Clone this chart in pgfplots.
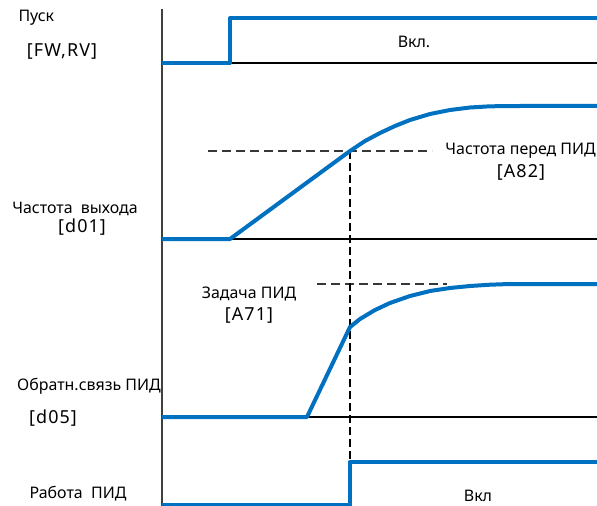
\documentclass[border=0pt]{standalone}
\usepackage{fontspec}
\setmainfont{Noto Sans}
\usepackage{pgfplots}
\pgfplotsset{compat=1.18}
\definecolor{sigblue}{RGB}{0,112,192}
\definecolor{axgray}{RGB}{64,64,64}
\definecolor{dashgray}{RGB}{55,55,55}
\begin{document}
\begin{tikzpicture}
\begin{axis}[name=ax, scale only axis, width=597bp, height=506bp,
  xmin=0, xmax=597, ymin=0, ymax=506, y dir=reverse, axis lines=none, clip=true]
% axis line
\addplot[axgray, line width=2bp] coordinates {(162,9) (162,506)};
% baselines
\addplot[black, line width=1.8bp] coordinates {(162,63) (597,63)};
\addplot[black, line width=1.8bp] coordinates {(162,239) (597,239)};
\addplot[black, line width=1.8bp] coordinates {(162,417) (597,417)};
% dashed guides
\addplot[dashgray, line width=2.2bp, dash pattern=on 9bp off 5bp] coordinates {(208,151) (432,151)};
\addplot[dashgray, line width=2.2bp, dash pattern=on 9bp off 5bp] coordinates {(317,284) (447,284)};
\addplot[black, line width=2.6bp, dash pattern=on 8bp off 4bp] coordinates {(350,151) (350,506)};
% start signal
\addplot[sigblue, line width=4bp, line join=round] coordinates {(162,63) (230,63) (230,18) (597,18)};
% output frequency
\addplot[sigblue, line width=4bp, line join=round] coordinates {
(162,239) (230,239) (335,162) (350,151) (365,141) (380,133) (395,126)
(410,120) (430,114) (450,110) (470,107.5) (490,106.3) (520,106) (597,106)};
% PID feedback
\addplot[sigblue, line width=4bp, line join=round] coordinates {
(162,417) (307,417) (350,327) (360,319) (375,310) (390,303) (410,296) (430,291)
(450,288) (470,286) (490,284.7) (510,284) (597,284)};
% PID operation
\addplot[sigblue, line width=4bp, line join=round] coordinates {(162,505) (350,505) (350,462) (597,462)};
% texts
\node[anchor=west, font=\fontsize{16}{18}\selectfont] at (axis cs:15,18) {Пуск};
\node[font=\fontsize{18}{20}\selectfont\addfontfeature{LetterSpace=6}] at (axis cs:62,52) {[FW,RV]};
\node[font=\fontsize{16}{18}\selectfont] at (axis cs:414,42) {Вкл.};
\node[font=\fontsize{16}{18}\selectfont] at (axis cs:75,209) {Частота\ \ выхода};
\node[font=\fontsize{18}{20}\selectfont\addfontfeature{LetterSpace=6}] at (axis cs:82,227) {[d01]};
\node[anchor=east, inner sep=1bp, font=\fontsize{16}{18}\selectfont] at (axis cs:597,151) {Частота перед ПИД};
\node[font=\fontsize{18}{20}\selectfont\addfontfeature{LetterSpace=6}] at (axis cs:521,172) {[A82]};
\node[font=\fontsize{16}{18}\selectfont] at (axis cs:249,294) {Задача ПИД};
\node[font=\fontsize{18}{20}\selectfont\addfontfeature{LetterSpace=6}] at (axis cs:249,315) {[A71]};
\node[font=\fontsize{16}{18}\selectfont] at (axis cs:89,386) {Обратн.связь ПИД};
\node[font=\fontsize{18}{20}\selectfont\addfontfeature{LetterSpace=6}] at (axis cs:53,418) {[d05]};
\node[font=\fontsize{16}{18}\selectfont] at (axis cs:78,494) {Работа\ \ ПИД};
\node[font=\fontsize{16}{18}\selectfont] at (axis cs:478,496) {Вкл};
\end{axis}
\pgfresetboundingbox
\path (ax.south west) rectangle (ax.north east);
\end{tikzpicture}
\end{document}
